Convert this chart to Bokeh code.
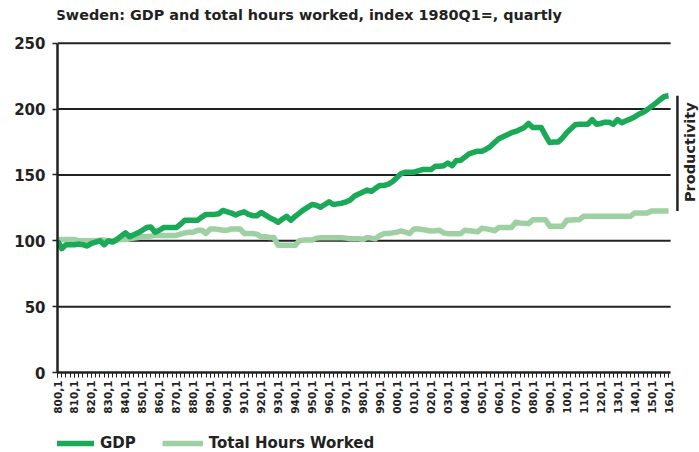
import math
from bokeh.plotting import figure
from bokeh.layouts import column
from bokeh.models import (Range1d, FixedTicker, Legend, LegendItem)
from bokeh.core.properties import value
from bokeh.embed import file_html
from bokeh.resources import INLINE

# ---- data (index 1980Q1 = 100, quarterly 1980Q1 .. 2016Q1) ----
gdp = [100, 94, 97, 97, 97, 97.5, 97, 96, 98, 99, 100, 97, 100, 99, 101, 103.5,
       106, 103, 104.5, 106, 108, 110, 110.5, 106.5, 108, 110, 110, 110, 110, 112.5,
       115.5, 115.5, 115.5, 115.5, 118, 120, 120, 120, 120.5, 123, 122, 121, 119.5, 121,
       122, 120, 119, 119, 121.5, 119.5, 117.5, 116, 114, 116.5, 118.5, 115.5, 118.5, 121,
       123.5, 125.5, 127.5, 127, 125.5, 127.5, 129.5, 127.5, 128, 128.5, 129.5, 131, 134,
       135.5, 137, 138.5, 137.5, 140, 142, 142, 143, 145, 148, 151, 152, 152, 152, 153,
       154, 154, 154, 156.5, 156.5, 157, 159, 157, 161, 161, 163.5, 166, 167, 168, 168,
       169.5, 171.5, 174.5, 177.5, 179, 180.5, 182, 183, 184.5, 186, 189, 186, 186, 186,
       180, 174.5, 175, 175, 178, 182, 185, 188, 188.5, 188.5, 188.5, 192, 188.5, 189, 190,
       190, 188.5, 192, 189.5, 191, 192.5, 194, 196, 197.5, 199.5, 202, 204.5, 207, 209.5, 210]
hours = [101, 101, 101, 101, 101, 100, 100, 100, 100, 100, 100.5, 100.5, 100, 100, 100.5, 101,
         101, 101.5, 102, 102.5, 103, 103, 103.5, 104, 104, 104, 104, 104, 104, 105,
         106, 106.5, 106.5, 108, 108, 105.5, 109, 109, 108.5, 108, 108, 109, 109, 109,
         105.5, 105.5, 105.5, 105, 103, 103, 102.5, 102.5, 96.5, 96.5, 96.5, 96.5, 96.5, 100,
         100.5, 100.5, 100.5, 102, 102.3, 102.3, 102.3, 102.3, 102.3, 102.3, 102, 101.6, 101.5,
         101.5, 101, 102.5, 102, 101.6, 104, 105.5, 105.5, 106, 106.5, 107.4, 106.5, 105.5,
         109, 109, 108.5, 108, 107.4, 107.6, 108, 106, 105.4, 105.4, 105.4, 105.4, 108, 107.6,
         107.2, 106.8, 109.5, 109, 108.5, 107.6, 110, 110, 110, 110, 114, 113.5, 113.2, 113,
         116, 116, 116, 116, 111, 111, 111, 111, 115.5, 115.7, 115.9, 116, 118.6, 118.6, 118.6,
         118.6, 118.6, 118.6, 118.6, 118.6, 118.6, 118.6, 118.6, 118.6, 121, 121, 121, 121,
         122.5, 122.5, 122.5, 122.5, 122.5]
tick_labels = ["800,1", "810,1", "820,1", "830,1", "840,1", "850,1", "860,1", "870,1",
               "880,1", "890,1", "900,1", "910,1", "920,1", "930,1", "940,1", "950,1",
               "960,1", "970,1", "980,1", "990,1", "000,1", "010,1", "020,1", "030,1",
               "040,1", "050,1", "060,1", "070,1", "080,1", "900,1", "100,1", "110,1",
               "120,1", "130,1", "140,1", "150,1", "160,1"]
y_ticks = [0, 50, 100, 150, 200, 250]
series_names = ["GDP", "Total Hours Worked"]
title_text = "Sweden: GDP and total hours worked, index 1980Q1=, quartly"
bracket_label = "Productivity"

FONT = "DejaVu Sans"
INK = "#222222"
GDP_COL = "#1aa957"
HRS_COL = "#9fd0a3"

n = len(gdp)
x = list(range(n))
last = n - 1


def strip(h):
    f = figure(width=699, height=h, output_backend="svg", toolbar_location=None,
               x_range=Range1d(0, 1), y_range=Range1d(0, 1),
               x_axis_location=None, y_axis_location=None,
               min_border=0, min_border_left=0, min_border_right=0,
               min_border_top=0, min_border_bottom=0)
    f.grid.visible = False
    f.outline_line_color = None
    f.border_fill_color = "white"
    return f


# title strip
tp = strip(30)
tp.text(x=[0], y=[0.53], text=[title_text], x_offset=-2,
        text_align="left", text_baseline="middle",
        text_font=value(FONT), text_font_style="bold", text_font_size="14.4px",
        text_color=INK)

p = figure(width=699, height=392, output_backend="svg", toolbar_location=None,
           x_range=Range1d(0, 151.3), y_range=Range1d(0, 252),
           min_border_left=57, min_border_right=0, min_border_top=10, min_border_bottom=50)
p.outline_line_color = None
p.background_fill_color = "white"
p.border_fill_color = "white"

# grid lines drawn across the data span only
p.xgrid.visible = False
p.ygrid.visible = False
gl = [t for t in y_ticks if t > 0]
p.segment(x0=[0] * len(gl), x1=[last + 0.5] * len(gl), y0=gl, y1=gl,
          line_color=INK, line_width=2)

p.line(x, hours, line_color=HRS_COL, line_width=5.5, line_join="round")
p.line(x, gdp, line_color=GDP_COL, line_width=5.5, line_join="round")

# productivity bracket
p.segment(x0=[last + 2.1], x1=[last + 2.1], y0=[gdp[-1]], y1=[hours[-1]],
          line_color=INK, line_width=2.5)
p.text(x=[last + 5.0], y=[(gdp[-1] + hours[-1]) / 2 + 1], text=[bracket_label],
       angle=math.pi / 2, text_align="center", text_baseline="middle",
       text_font=value(FONT), text_font_style="bold", text_font_size="14.5px",
       text_color=INK)

# axes
xa = p.xaxis[0]
xa.bounds = (0, last + 0.5)
xa.ticker = FixedTicker(ticks=list(range(0, n, 4)), minor_ticks=x)
xa.major_label_overrides = {i * 4: lab for i, lab in enumerate(tick_labels)}
xa.major_label_orientation = math.pi / 2
xa.major_label_text_font = FONT
xa.major_label_text_font_style = "bold"
xa.major_label_text_font_size = "10.5px"
xa.major_label_text_color = INK
xa.major_label_standoff = 3
xa.axis_line_color = INK
xa.axis_line_width = 2.5
xa.major_tick_line_color = INK
xa.minor_tick_line_color = INK
xa.major_tick_out = 5
xa.major_tick_in = 0
xa.minor_tick_out = 5
xa.minor_tick_in = 0
xa.major_tick_line_width = 1
xa.minor_tick_line_width = 1

ya = p.yaxis[0]
ya.bounds = (0, 250)
ya.ticker = FixedTicker(ticks=y_ticks)
ya.minor_tick_line_color = None
ya.major_label_text_font = FONT
ya.major_label_text_font_style = "bold"
ya.major_label_text_font_size = "15px"
ya.major_label_text_color = INK
ya.major_label_standoff = 7
ya.axis_line_color = INK
ya.axis_line_width = 2.5
ya.major_tick_line_color = INK
ya.major_tick_out = 5
ya.major_tick_in = 0
ya.major_tick_line_width = 1.5

# legend strip below the chart
lg = strip(30)
r_g = lg.line(x[:2], [-5, -5], line_color=GDP_COL, line_width=5.5)
r_h = lg.line(x[:2], [-5, -5], line_color=HRS_COL, line_width=5.5)
legend = Legend(items=[LegendItem(label=series_names[0], renderers=[r_g]),
                       LegendItem(label=series_names[1], renderers=[r_h])],
                location=(-4, 0), orientation="horizontal",
                glyph_width=41, glyph_height=16, label_height=16,
                label_standoff=6, spacing=26, padding=0, margin=0,
                border_line_alpha=0, background_fill_alpha=0,
                label_text_font=FONT, label_text_font_style="bold",
                label_text_font_size="15px", label_text_color=INK)
lg.add_layout(legend, "center")

layout = column(tp, p, lg, spacing=0)
open("out.html", "w").write(file_html(layout, INLINE))
